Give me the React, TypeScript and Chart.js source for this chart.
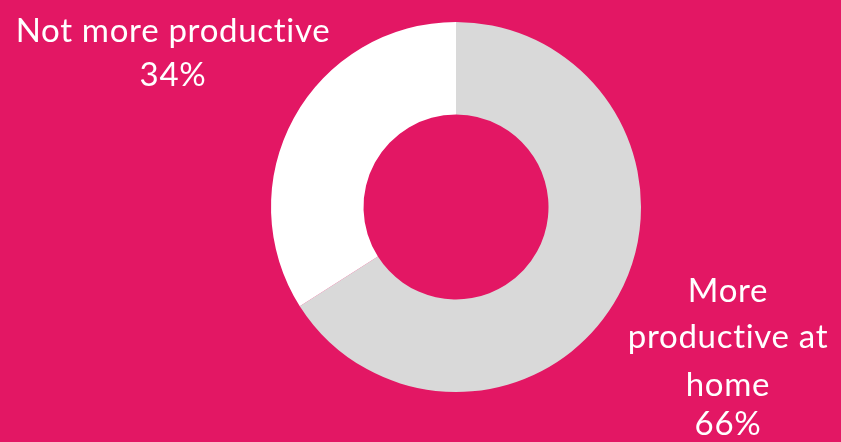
import React, { useEffect, useRef } from "react";
import { Chart, registerables } from "chart.js";

Chart.register(...registerables);

const categories = ["More productive at home", "Not more productive"];
const values = [66, 34];
const sliceColors = ["#D9D9D9", "#FFFFFF"];
const labelLines = [
  ["More", "productive at", "home", "66%"],
  ["Not more productive", "34%"],
];
const BG = "#E31764";

export default function App() {
  const ref = useRef<HTMLCanvasElement>(null);
  useEffect(() => {
    document.body.style.margin = "0";
    const labelPlugin = {
      id: "outsideLabels",
      afterDraw(chart: any) {
        const ctx = chart.ctx;
        ctx.save();
        ctx.fillStyle = "#FFFFFF";
        ctx.font = "33px Lato, 'Open Sans', sans-serif";
        (ctx as any).letterSpacing = "0.7px";
        ctx.textAlign = "center";
        ctx.textBaseline = "alphabetic";
        const right = { x: 728, ys: [302, 348, 396, 435] };
        labelLines[0].forEach((t, i) => ctx.fillText(t, right.x, right.ys[i]));
        const left = { x: 173, ys: [42, 86] };
        labelLines[1].forEach((t, i) => ctx.fillText(t, left.x, left.ys[i]));
        ctx.restore();
      },
    };
    const chart = new Chart(ref.current!, {
      type: "doughnut",
      data: {
        labels: categories,
        datasets: [
          {
            data: values,
            backgroundColor: sliceColors,
            borderWidth: 0,
          },
        ],
      },
      options: {
        animation: false,
        responsive: false,
        cutout: "50%",
        layout: { padding: { left: 271, right: 200, top: 22, bottom: 50 } },
        plugins: { legend: { display: false }, tooltip: { enabled: false } },
      },
      plugins: [labelPlugin],
    });
    return () => chart.destroy();
  }, []);
  return (
    <div style={{ width: 841, height: 442, background: BG }}>
      <canvas ref={ref} width={841} height={442} style={{ display: "block" }} />
    </div>
  );
}
